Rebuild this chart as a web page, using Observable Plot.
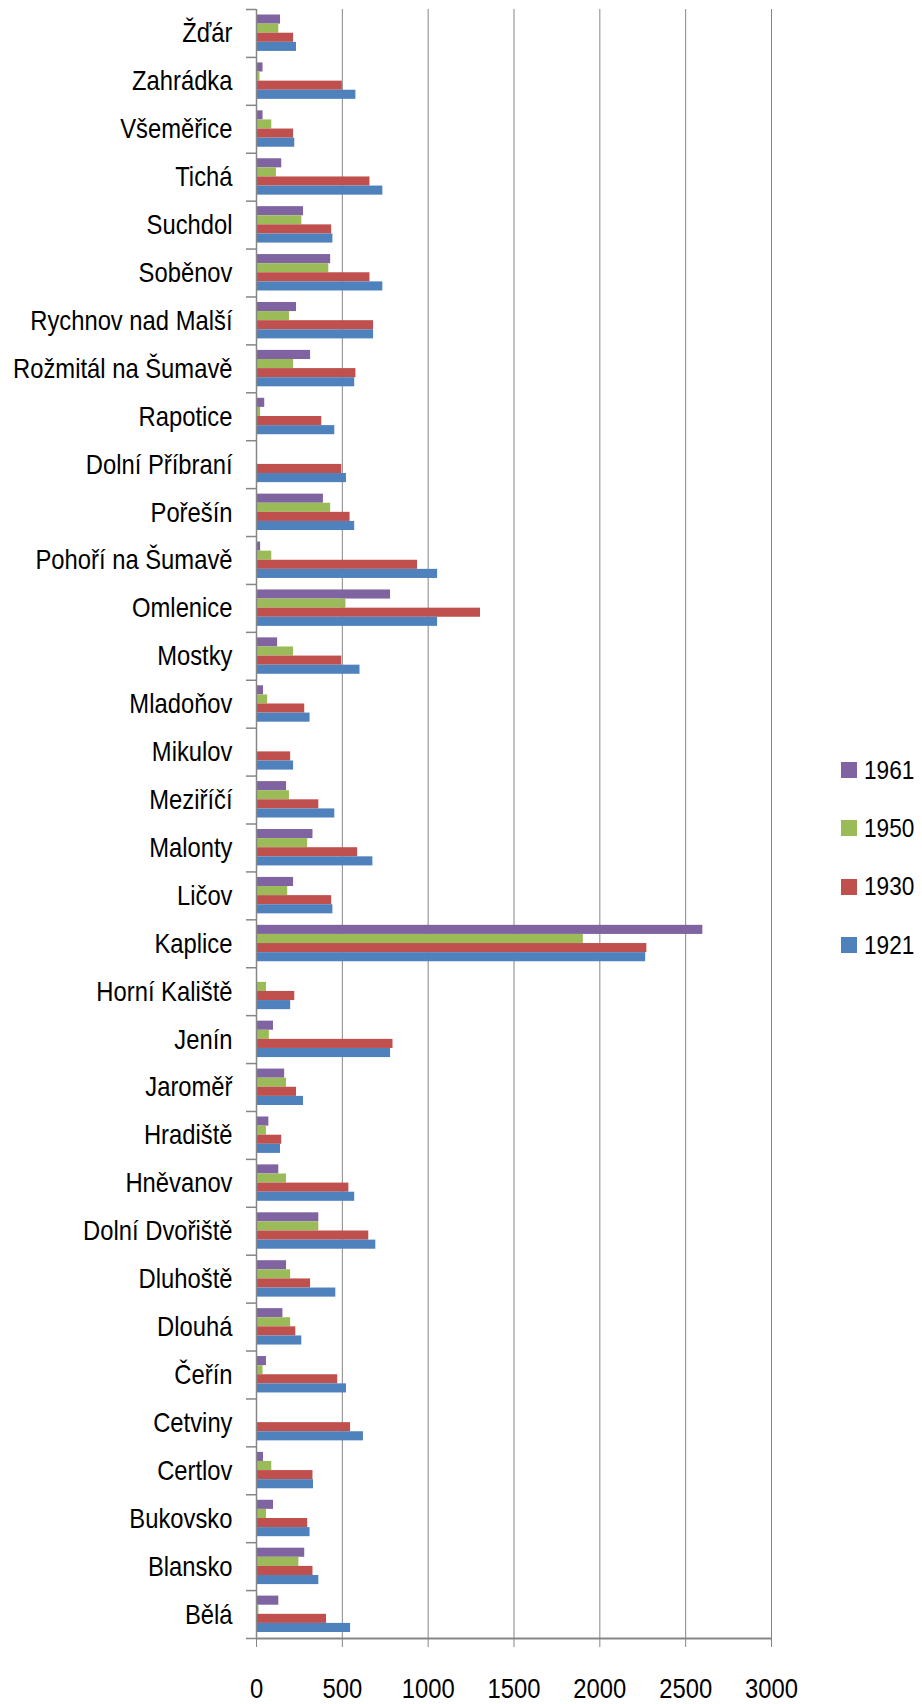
<!DOCTYPE html>
<html>
<head>
<meta charset="utf-8">
<script src="https://cdn.jsdelivr.net/npm/d3@7"></script>
<script src="https://cdn.jsdelivr.net/npm/@observablehq/plot@0.6"></script>
<style>
  html, body { margin: 0; padding: 0; background: #fff; }
  #wrap { position: relative; width: 922px; height: 1704px; }
  .ff { font-family: "Liberation Sans", Arial, sans-serif; }
  #legend { position: absolute; left: 841px; top: 741px; }
  .row { height: 58.3px; display: flex; align-items: center; font-size: 26px; color: #000; }
  .row span { display: inline-block; transform: scaleX(0.87); transform-origin: 0 50%; }
  .sw { width: 16px; height: 16px; margin-right: 7px; }
</style>
</head>
<body>
<div id="wrap" class="ff"></div>
<script>
const towns = ["Žďár","Zahrádka","Všeměřice","Tichá","Suchdol","Soběnov","Rychnov nad Malší","Rožmitál na Šumavě","Rapotice","Dolní Příbraní","Pořešín","Pohoří na Šumavě","Omlenice","Mostky","Mladoňov","Mikulov","Meziříčí","Malonty","Ličov","Kaplice","Horní Kaliště","Jenín","Jaroměř","Hradiště","Hněvanov","Dolní Dvořiště","Dluhoště","Dlouhá","Čeřín","Cetviny","Certlov","Bukovsko","Blansko","Bělá"];
const years = ["1961","1950","1930","1921"];
const colors = ["#8064A2","#9BBB59","#C0504D","#4F81BD"];
const v1961 = [140,38,38,147,274,432,233,315,48,0,390,24,781,123,41,0,175,329,216,2600,0,99,164,72,130,363,175,154,58,0,41,99,281,130];
const v1950 = [130,20,89,116,264,421,192,216,24,0,432,89,521,216,65,0,192,298,182,1904,58,75,175,58,175,363,199,199,38,0,89,58,247,14];
const v1930 = [216,500,216,661,438,661,682,579,380,497,545,938,1305,497,281,199,363,589,438,2274,223,795,233,147,538,654,315,229,473,548,329,298,329,408];
const v1921 = [233,579,223,736,445,736,682,572,456,524,572,1055,1055,603,312,216,456,678,445,2267,199,781,274,140,572,695,462,264,524,623,332,312,363,548];
const xTicks = [0,500,1000,1500,2000,2500,3000];
const xTickLabels = ["0","500","1000","1500","2000","2500","3000"];

const series = [v1961, v1950, v1930, v1921];
const rows = [];
towns.forEach((t, i) => {
  series.forEach((s, k) => {
    if (s[i] > 0) rows.push({town: t, i, k, year: years[k], value: s[i]});
  });
});

const OFF = 0.115, H = 0.19;
const grey = "#868686";
const boundaries = d3.range(0, towns.length + 1);
const centers = towns.map((t, i) => i + 0.5);

const chart = Plot.plot({
  width: 922,
  height: 1704,
  marginLeft: 256,
  marginRight: 151,
  marginTop: 9,
  marginBottom: 66,
  style: {fontFamily: '"Liberation Sans", Arial, sans-serif', fontSize: "28px", background: "#fff", color: "#000"},
  x: {domain: [0, 3000], axis: null},
  y: {domain: [0, towns.length], reverse: true, axis: null},
  color: {domain: years, range: colors},
  marks: [
    Plot.ruleX(xTicks.slice(1), {stroke: grey, strokeWidth: 1, strokeOpacity: 1}),
    Plot.rect(rows, {
      x1: 0,
      x2: "value",
      y1: d => d.i + OFF + d.k * H,
      y2: d => d.i + OFF + (d.k + 1) * H,
      fill: "year"
    }),
    Plot.ruleX([0], {stroke: grey, strokeWidth: 1.5}),
    Plot.ruleY([towns.length], {stroke: grey, strokeWidth: 2}),
    Plot.axisY(boundaries, {tickSize: 10, tickFormat: () => "", stroke: grey, strokeWidth: 1.5, label: null}),
    Plot.axisY(centers, {tickSize: 0, tickPadding: 24, tickFormat: d => towns[Math.floor(d)], fontSize: 28, fill: "#000", label: null}),
    Plot.axisX(xTicks, {tickSize: 9, tickPadding: 31, tickFormat: (d) => xTickLabels[xTicks.indexOf(d)], fontSize: 28, stroke: grey, fill: "#000", label: null})
  ]
});

// condense the tick labels horizontally to mimic the narrow face of the original
chart.querySelectorAll('g[aria-label="y-axis tick label"] text, g[aria-label="x-axis tick label"] text').forEach(t => {
  const tr = t.getAttribute("transform") || "";
  t.setAttribute("transform", `${tr} scale(0.85,1)`);
});
document.getElementById("wrap").appendChild(chart);

const legend = document.createElement("div");
legend.id = "legend";
years.forEach((y, k) => {
  const r = document.createElement("div");
  r.className = "row";
  r.innerHTML = `<div class="sw" style="background:${colors[k]}"></div><span>${y}</span>`;
  legend.appendChild(r);
});
document.getElementById("wrap").appendChild(legend);
</script>
</body>
</html>
